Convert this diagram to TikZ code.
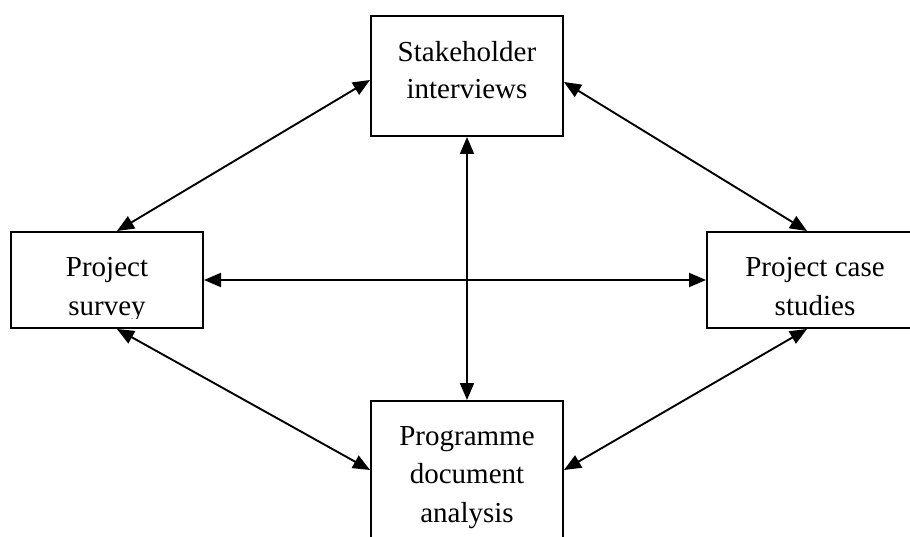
\documentclass[tikz,border=0pt]{standalone}
\usepackage{fontspec}
\setmainfont{Liberation Serif}
\usetikzlibrary{arrows.meta}
\begin{document}
\begin{tikzpicture}[x=1pt,y=-1pt,
  box/.style={draw, line width=2pt, inner sep=0pt, fill=white},
  lbl/.style={anchor=base, inner sep=0pt, font=\fontsize{29}{38}\selectfont},
  link/.style={line width=1.9pt, {Triangle[length=17pt,width=14pt]}-{Triangle[length=17pt,width=14pt]}}]
\path[use as bounding box] (0,0) rectangle (910,537);
\fill[white] (0,0) rectangle (910,537);
\clip (0,0) rectangle (910,537);
% boxes
\node[box, minimum width=192pt, minimum height=120pt] (top) at (467,76) {};
\node[box, minimum width=192pt, minimum height=96pt] (left) at (107,280) {};
\node[box, minimum width=216pt, minimum height=96pt] (right) at (815,280) {};
\node[box, minimum width=192pt, minimum height=150pt] (bottom) at (467,476) {};
% texts
\node[lbl] (t1) at (467,62) {Stakeholder};
\node[lbl] (t2) at (467,99) {interviews};
\node[lbl] (l1) at (107,277) {Project};
\begin{scope}
  \clip (11,232) rectangle (203,318);
  \node[lbl] (l2) at (107,316) {survey};
\end{scope}
\node[lbl] (r1) at (815,277) {Project case};
\node[lbl] (r2) at (815,316) {studies};
\node[lbl] (b1) at (467,445) {Programme};
\node[lbl] (b2) at (467,483) {document};
\node[lbl] (b3) at (467,522) {analysis};
% connectors
\draw[link] ([xshift=10pt]left.north) -- ([yshift=-4pt]top.west);
\draw[link] ([yshift=-6pt]top.east) -- ([xshift=-8pt]right.north);
\draw[link] ([xshift=10pt]left.south) -- ([yshift=6pt]bottom.west);
\draw[link] ([xshift=-8pt]right.south) -- ([yshift=6pt]bottom.east);
\draw[link] (left.east) -- (right.west);
\draw[link] (top.south) -- (bottom.north);
\end{tikzpicture}
\end{document}
